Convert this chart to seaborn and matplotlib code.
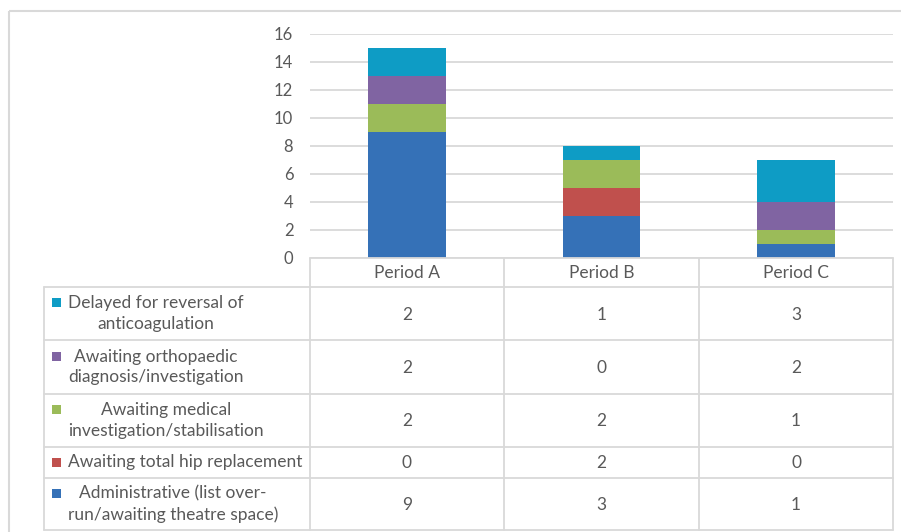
import matplotlib
matplotlib.use("Agg")
import matplotlib.pyplot as plt
import matplotlib.transforms as mtransforms
from matplotlib.patches import Rectangle
from matplotlib.lines import Line2D
import seaborn as sns

periods = ["Period A", "Period B", "Period C"]
# series, bottom to top of the stack
series_names = [
    "Administrative (list over-\nrun/awaiting theatre space)",
    "Awaiting total hip replacement",
    "Awaiting medical\ninvestigation/stabilisation",
    "Awaiting orthopaedic\ndiagnosis/investigation",
    "Delayed for reversal of\nanticoagulation",
]
administrative = [9, 3, 1]
hip_replacement = [0, 2, 0]
medical = [2, 2, 1]
orthopaedic = [2, 0, 2]
anticoagulation = [2, 1, 3]
series_values = [administrative, hip_replacement, medical, orthopaedic, anticoagulation]
colors = ["#3571B7", "#C0504D", "#9BBB59", "#8064A2", "#0E9CC5"]
yticks = [0, 2, 4, 6, 8, 10, 12, 14, 16]

sns.set_theme(style="white")
plt.rcParams["font.family"] = ["Lato", "DejaVu Sans"]
TXT = "#595959"
LINE = "#D9D9D9"
FS = 12.5

W, H = 901, 532
fig = plt.figure(figsize=(W / 100, H / 100), dpi=100)
px = mtransforms.Affine2D().scale(1 / W, -1 / H).translate(0, 1) + fig.transFigure

# outer chart border
fig.add_artist(Rectangle((9, 11), 1000, 1000, transform=px, fill=False,
                         edgecolor=LINE, linewidth=1.5))

ax = fig.add_axes([310 / W, 1 - 258 / H, 583 / W, 224 / H])
bottom = [0, 0, 0]
for vals, c in zip(series_values, colors):
    sns.barplot(x=periods, y=vals, bottom=bottom, color=c, width=0.4,
                saturation=1, ax=ax, linewidth=0)
    bottom = [b + v for b, v in zip(bottom, vals)]

ax.set_ylim(0, 16)
ax.set_xlim(-0.5, 2.5)
ax.set_yticks(yticks)
ax.set_yticklabels([str(t) for t in yticks], color=TXT, fontsize=12)
ax.tick_params(axis="y", length=0, pad=12)
ax.set_xticks([])
ax.set_xlabel("")
ax.set_ylabel("")
ax.yaxis.grid(True, color=LINE, linewidth=1.3)
ax.set_axisbelow(True)
for s in ax.spines.values():
    s.set_visible(False)

# data table
col_x = [310, 504, 699, 893]
row_y = [287, 340, 394, 447, 478, 530]
left_x = 44

def hline(y, x0, x1):
    fig.add_artist(Line2D([x0, x1], [y, y], transform=px, color=LINE, linewidth=1.3))

def vline(x, y0, y1):
    fig.add_artist(Line2D([x, x], [y0, y1], transform=px, color=LINE, linewidth=1.3))

hline(258, col_x[0], col_x[-1])
for y in row_y:
    hline(y, left_x, col_x[-1])
for x in col_x:
    vline(x, 258, row_y[-1])
vline(left_x, row_y[0], row_y[-1])

for i, p in enumerate(periods):
    cx = (col_x[i] + col_x[i + 1]) / 2
    fig.text(cx, 272.5, p, transform=px, ha="center", va="center", color=TXT, fontsize=FS)

LH = 21.5
table_rows = list(zip(series_names, series_values, colors))[::-1]
for r, (name, vals, c) in enumerate(table_rows):
    y0, y1 = row_y[r], row_y[r + 1]
    cy = (y0 + y1) / 2
    nlines = name.count("\n") + 1
    fig.text(68, cy, name, transform=px, ha="left", va="center", ma="center",
             color=TXT, fontsize=FS, linespacing=1.35)
    first_y = cy - (nlines - 1) / 2 * LH
    fig.add_artist(Rectangle((52, first_y - 4.5), 9, 9, transform=px,
                             facecolor=c, edgecolor="none"))
    for i, v in enumerate(vals):
        cx = (col_x[i] + col_x[i + 1]) / 2
        fig.text(cx, cy + 1, str(v), transform=px, ha="center", va="center",
                 color=TXT, fontsize=FS)

fig.savefig("out.png", dpi=100, facecolor="white")
